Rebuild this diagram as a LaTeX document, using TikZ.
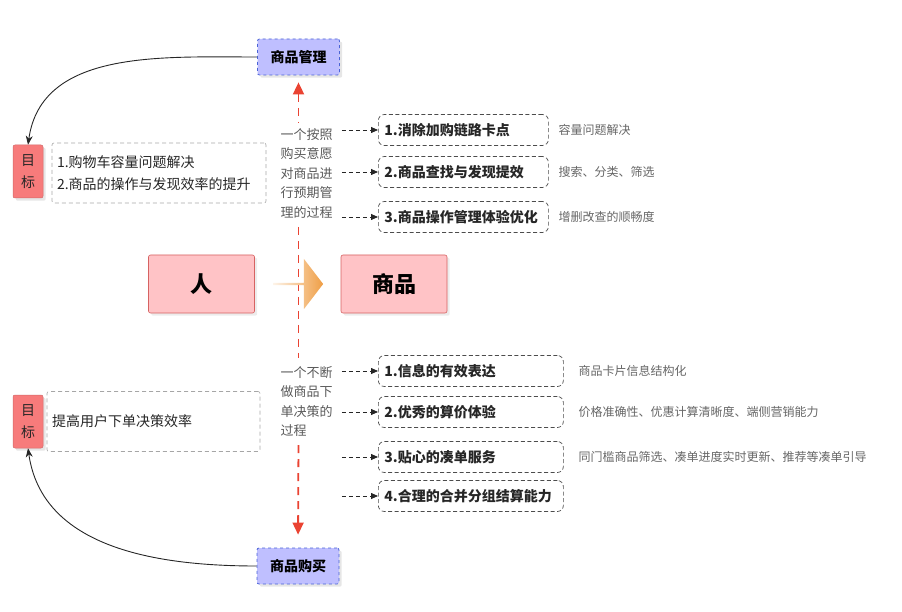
\documentclass[tikz,border=0pt]{standalone}
\usepackage{fontspec}
\setmainfont{Noto Sans CJK SC}
\usetikzlibrary{arrows.meta, positioning, calc, shapes.arrows, shadows}
\definecolor{lav}{HTML}{BFBFFF}
\definecolor{lavb}{HTML}{4A63D6}
\definecolor{goalc}{HTML}{F77B7B}
\definecolor{pinkc}{HTML}{FFC3C6}
\definecolor{pinkb}{HTML}{D66262}
\definecolor{redc}{HTML}{EA4332}
\definecolor{orc}{HTML}{EF9E45}

\begin{document}
\begin{tikzpicture}[x=1pt, y=-1pt, >=Stealth, line width=0.8pt,
    sceneb/.style={draw=lavb, dashed, fill=lav, rounded corners=2pt,
      minimum width=82pt, minimum height=36pt, inner sep=0pt,
      font=\fontsize{14}{16}\selectfont\bfseries,
      drop shadow={opacity=0.2}},
    goalb/.style={draw=goalc!85!black, line width=0.5pt, fill=goalc,
      rounded corners=2pt, minimum width=30pt, minimum height=53pt,
      inner sep=0pt, align=center, text=black!85,
      font=\fontsize{14}{22}\selectfont, drop shadow={opacity=0.2}},
    goaltxt/.style={draw=black!35, dash pattern=on 4pt off 3pt,
      line width=0.6pt, rounded corners=2pt, inner sep=5pt,
      minimum height=60pt, align=left, text=black!85,
      font=\fontsize{14}{22}\selectfont},
    bigb/.style={draw=pinkb, line width=0.6pt, fill=pinkc,
      rounded corners=2pt, minimum width=106pt, minimum height=58pt,
      font=\fontsize{22}{24}\selectfont\bfseries,
      drop shadow={opacity=0.15}},
    lefttxt/.style={inner sep=2pt, align=left, text=black!65,
      font=\fontsize{13}{19.5}\selectfont},
    itemb/.style={draw=black!70, dash pattern=on 4pt off 2.5pt,
      line width=0.7pt, rounded corners=6pt, minimum height=31pt,
      inner sep=6pt, align=left, anchor=west, text=black!85,
      font=\fontsize{14}{16}\selectfont\bfseries},
    desc/.style={anchor=west, text=black!60,
      font=\fontsize{12}{14}\selectfont},
    flowarr/.style={->, black!85, dash pattern=on 4pt off 3pt,
      line width=0.8pt, >={Triangle[width=6pt, length=7pt]}},
    redline/.style={redc, line width=1.8pt,
      dash pattern=on 8pt off 6pt,
      >={Triangle[width=11pt, length=12pt]}},
    curvearr/.style={->, black!85, line width=0.9pt,
      >={Stealth[width=7pt, length=9pt]}}]
  \useasboundingbox (0,0) rectangle (902,612);

  % the two scenes
  \node[sceneb] (mgmt) at (298.5,57) {商品管理};
  \node[sceneb] (buy) at (298,566) {商品购买};

  % goals
  \node[goalb] (goal1) at (28,171.5) {目\\标};
  \node[goaltxt, text width=204pt] (gtxt1) at (159,173)
    {1.购物车容量问题解决\\2.商品的操作与发现效率的提升};
  \node[goalb] (goal2) at (28,421.5) {目\\标};
  \node[goaltxt, text width=203pt] (gtxt2) at (153.5,421.5)
    {提高用户下单决策效率};
  \draw[curvearr] (mgmt.west) to[out=180, in=82] (goal1.north);
  \draw[curvearr] (buy.west) to[out=180, in=-82] (goal2.south);

  % the two processes
  \node[lefttxt] (lp1) at (306.5,173.5)
    {一个按照\\购买意愿\\对商品进\\行预期管\\理的过程};
  \node[lefttxt] (lp2) at (306.5,401.5)
    {一个不断\\做商品下\\单决策的\\过程};
  \draw[redline, <-, shorten <=7pt, shorten >=4pt]
    (mgmt.south) -- (mgmt.south |- lp1.north);
  \draw[redline, shorten <=6pt, shorten >=6pt]
    (mgmt.south |- lp1.south) -- (mgmt.south |- lp2.north);
  \draw[redline, ->, shorten <=6pt, shorten >=13pt]
    (mgmt.south |- lp2.south) -- (buy.north);

  % person -> goods
  \node[bigb] (ren) at (201.5,284) {人};
  \node[bigb] (goods) at (394,284) {商品};
  \node[single arrow, minimum height=50pt, minimum width=50pt,
        single arrow head extend=9pt, single arrow tip angle=105,
        inner sep=0pt, left color=orc!12, right color=orc]
        (flow) at ($(ren.east)!0.5!(goods.west)$) {};

  % management items
  \foreach \i/\y/\t/\d in {1/130/{1.消除加购链路卡点}/{容量问题解决},
      2/172/{2.商品查找与发现提效}/{搜索、分类、筛选},
      3/217/{3.商品操作管理体验优化}/{增删改查的顺畅度}}{
    \node[itemb, text width=158pt] (m\i) at (378,\y) {\t};
    \node[desc] (md\i) at (555,\y) {\d};
    \draw[flowarr] ([xshift=7pt]lp1.east |- m\i.west) -- (m\i.west);
  }

  % purchase items
  \foreach \i/\y/\t in {1/371/{1.信息的有效表达},
      2/412/{2.优秀的算价体验},
      3/457/{3.贴心的凑单服务},
      4/496/{4.合理的合并分组结算能力}}{
    \node[itemb, text width=173pt] (p\i) at (378,\y) {\t};
    \draw[flowarr] ([xshift=7pt]lp2.east |- p\i.west) -- (p\i.west);
  }
  \node[desc] (pd1) at (575,371) {商品卡片信息结构化};
  \node[desc] (pd2) at (575,412) {价格准确性、优惠计算清晰度、端侧营销能力};
  \node[desc] (pd3) at (575,457) {同门槛商品筛选、凑单进度实时更新、推荐等凑单引导};
\end{tikzpicture}
\end{document}
